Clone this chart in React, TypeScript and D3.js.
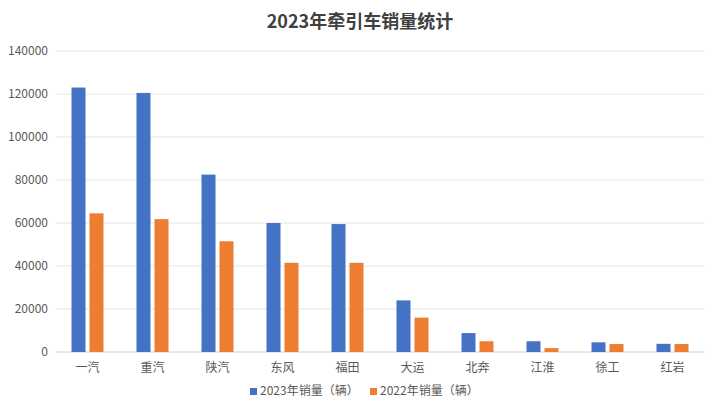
import React from "react";
import * as d3 from "d3";

const categories = ["一汽","重汽","陕汽","东风","福田","大运","北奔","江淮","徐工","红岩"];
const sales2023 = [123000,120500,82500,60000,59500,24000,8800,5000,4500,3800];
const sales2022 = [64500,61800,51500,41500,41500,16000,5000,1800,3700,3700];
const yTicks = [0,20000,40000,60000,80000,100000,120000,140000];
const seriesNames = ["2023年销量（辆）","2022年销量（辆）"];
const colors = ["#4472C4","#ED7D31"];

export default function App() {
  const W = 720, H = 417;
  const x = d3.scaleBand().domain(categories).range([55, 705]);
  const y = d3.scaleLinear().domain([0, 140000]).range([352, 51]);
  const bw = 14, gap = 4;
  const font = "'Microsoft YaHei','Noto Sans CJK SC',sans-serif";
  return (
    <svg width={W} height={H} style={{ position: "absolute", left: 0, top: 0, fontFamily: font }}>
      <rect width={W} height={H} fill="#fff" />
      <text x={W / 2} y={28} textAnchor="middle" fontSize={18} fontWeight="bold" fill="#404040">2023年牵引车销量统计</text>
      {yTicks.map(t => (
        <g key={t}>
          <line x1={55} x2={705} y1={y(t)} y2={y(t)} stroke={t === 0 ? "#d0d0d0" : "#e6e6e6"} />
          <text x={48} y={y(t) + 4} textAnchor="end" fontSize={12} fill="#595959">{t}</text>
        </g>
      ))}
      {categories.map((c, i) => {
        const cx = x(c)! + x.bandwidth() / 2;
        return (
          <g key={c}>
            <rect x={cx - gap / 2 - bw} y={y(sales2023[i])} width={bw} height={352 - y(sales2023[i])} fill={colors[0]} />
            <rect x={cx + gap / 2} y={y(sales2022[i])} width={bw} height={352 - y(sales2022[i])} fill={colors[1]} />
            <text x={cx} y={372} textAnchor="middle" fontSize={12} fill="#595959">{c}</text>
          </g>
        );
      })}
      {seriesNames.map((s, i) => (
        <g key={s} transform={`translate(${250 + i * 120},392)`}>
          <rect x={0} y={-4} width={7} height={7} fill={colors[i]} />
          <text x={10} y={3} fontSize={12} fill="#595959">{s}</text>
        </g>
      ))}
    </svg>
  );
}
